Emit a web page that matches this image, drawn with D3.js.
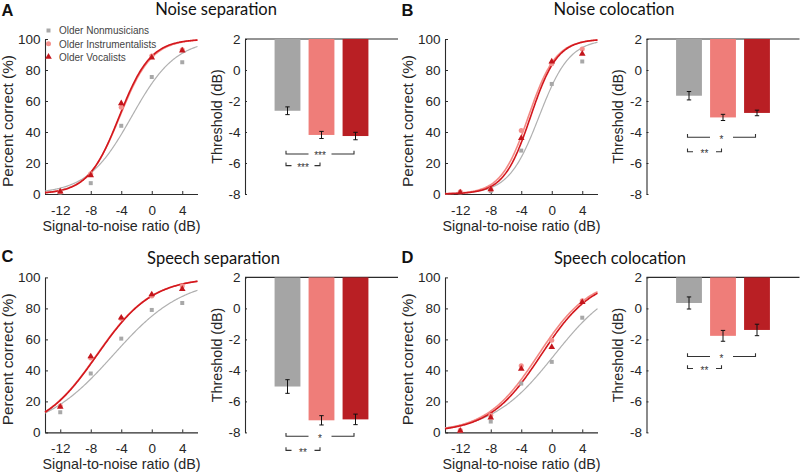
<!DOCTYPE html>
<html>
<head>
<meta charset="utf-8">
<script src="https://cdn.jsdelivr.net/npm/d3@7"></script>
<style>
  html, body { margin: 0; padding: 0; background: #fff; }
  svg { display: block; }
</style>
</head>
<body>
<svg id="chart" width="800" height="475"></svg>
<script>
// ---------------- data ----------------
const panelLetters = ["A", "B", "C", "D"];
const panelTitles = ["Noise separation", "Noise colocation", "Speech separation", "Speech colocation"];
const groups = ["Older Nonmusicians", "Older Instrumentalists", "Older Vocalists"];

const snrLevels = [-12, -8, -4, 0, 4];               // x positions of the data points (dB)
const xTickValues = [-12, -8, -4, 0, 4];
const pctTickValues = [0, 20, 40, 60, 80, 100];
const thrTickValues = [2, 0, -2, -4, -6, -8];

// percent correct per panel (A, B, C, D) at each SNR
const pctNonmusicians = [
  [1, 7, 44, 75.5, 85],
  [1, 2, 28, 71, 85.5],
  [13, 38, 60.5, 79, 83.5],
  [1, 7, 31.5, 45.5, 74]
];
const pctInstrumentalists = [
  [1.5, 13, 56, 89, 93],
  [1.5, 3, 41, 84, 93.5],
  [17, 48, 73.5, 88, 94.5],
  [1.3, 11, 43, 59.5, 85]
];
const pctVocalists = [
  [1.5, 12, 58.5, 88, 92.5],
  [1, 3, 36, 85.5, 90.5],
  [16.5, 49, 74, 89, 92.5],
  [1, 9.5, 41, 55, 84]
];

// fitted thresholds (dB) = bar heights, with their error bars
const thrNonmusicians = [-2.63, -1.66, -5.04, 0.35];
const thrInstrumentalists = [-4.19, -3.06, -7.22, -1.77];
const thrVocalists = [-4.26, -2.77, -7.16, -1.39];
const errNonmusicians = [0.25, 0.27, 0.44, 0.39];
const errInstrumentalists = [0.23, 0.2, 0.3, 0.35];
const errVocalists = [0.24, 0.18, 0.34, 0.37];

// slope parameters of the fitted psychometric (logistic) curves, dB
const slopeNonmusicians = [2.9, 2.0, 4.6, 4.1];
const slopeInstrumentalists = [2.1, 1.8, 3.6, 3.4];
const slopeVocalists = [2.05, 1.75, 3.6, 3.4];

// significance brackets: pairs of groups, level (dB) and labels
const sigPairs = [[0, 2], [0, 1]];
const sigLevels = [[-5.42, -6.17], [-4.34, -5.27], [-8.25, -9.16], [-3.1, -3.88]];
const sigLabels = [["***", "***"], ["*", "**"], ["*", "**"], ["*", "**"]];

// ---------------- styles ----------------
const markerCol = ["#a8a8a8", "#f3918d", "#c3161c"];
const curveCol = ["#b0b0b0", "#f38883", "#d3171d"];
const barCol = ["#a5a5a5", "#ef7d79", "#b91f24"];
const axisCol = "#2b2b2b";
const textCol = "#262626";
const FONT = "'Liberation Sans', Arial, sans-serif";

const svg = d3.select("#chart");
const pct = [pctNonmusicians, pctInstrumentalists, pctVocalists];
const thr = [thrNonmusicians, thrInstrumentalists, thrVocalists];
const err = [errNonmusicians, errInstrumentalists, errVocalists];
const slope = [slopeNonmusicians, slopeInstrumentalists, slopeVocalists];

function logistic(x, t, s) { return 100 / (1 + Math.exp(-(x - t) / s)); }

function styleAxis(g, fs) {
  g.attr("font-family", FONT).attr("font-size", fs);
  g.selectAll(".domain").attr("stroke", axisCol).attr("stroke-width", 1.1);
  g.selectAll(".tick line").attr("stroke", axisCol).attr("stroke-width", 1);
  g.selectAll(".tick text").attr("fill", textCol);
}

const titleCenters = [216, 614, 213.5, 620];
const titleBase = [15, 15, 263.5, 263.5];
const letterBase = [16, 16, 261.5, 263];

panelLetters.forEach((letter, p) => {
  const col = p % 2, row = Math.floor(p / 2);
  const ox = col * 400, oy = row * 238.4;

  const x = d3.scaleLinear().domain([-14, 6]).range([ox + 45, ox + 197.5]);
  const y = d3.scaleLinear().domain([0, 100]).range([oy + 194, oy + 39]);
  const xb = d3.scaleLinear().domain([-0.25, 4.25]).range([ox + 245 + col * 1.5, ox + 398 + col * 1.5]);
  const yb = d3.scaleLinear().domain([-8, 2]).range([oy + 194, oy + 39]);

  // panel letter and title
  svg.append("text").attr("x", ox + 1.5).attr("y", letterBase[p])
    .attr("font-family", FONT).attr("font-weight", "bold").attr("font-size", 16.5)
    .attr("fill", "#111").text(letter);
  svg.append("text").attr("x", titleCenters[p]).attr("y", titleBase[p])
    .attr("text-anchor", "middle").attr("font-family", "Lato, 'Open Sans', sans-serif")
    .attr("font-size", 16.5).attr("fill", "#111").text(panelTitles[p]);

  // ---- psychometric axes
  const gx = svg.append("g").attr("transform", `translate(0,${oy + 194})`)
    .call(d3.axisBottom(x).tickValues(xTickValues).tickFormat(d => String(d))
      .tickSizeInner(-3).tickSizeOuter(0).tickPadding(11));
  styleAxis(gx, 13.5);
  const gy = svg.append("g").attr("transform", `translate(${ox + 45},0)`)
    .call(d3.axisLeft(y).tickValues(pctTickValues).tickFormat(d => String(d))
      .tickSizeInner(-3).tickSizeOuter(0).tickPadding(4.5));
  styleAxis(gy, 13.5);

  svg.append("text").attr("transform", `translate(${ox + 12.5},${oy + 121}) rotate(-90)`)
    .attr("text-anchor", "middle").attr("font-family", FONT).attr("font-size", 15.3)
    .attr("fill", textCol).text("Percent correct (%)");
  svg.append("text").attr("x", ox + 121.5).attr("y", oy + 230.8)
    .attr("text-anchor", "middle").attr("font-family", FONT).attr("font-size", 14.3)
    .attr("fill", textCol).text("Signal-to-noise ratio (dB)");

  // ---- fitted curves
  const xs = d3.range(-14, 6.001, 0.1);
  const line = d3.line().x(d => x(d[0])).y(d => y(d[1])).curve(d3.curveLinear);
  [0, 1, 2].forEach(g => {
    const pts = xs.map(v => [v, logistic(v, thr[g][p], slope[g][p])]);
    svg.append("path").attr("d", line(pts)).attr("fill", "none")
      .attr("stroke", curveCol[g]).attr("stroke-width", g === 0 ? 1.2 : 1.6);
  });

  // ---- data markers
  const sym = [d3.symbolSquare, d3.symbolCircle, d3.symbolTriangle];
  const symSize = [16, 20, 19];
  [0, 1, 2].forEach(g => {
    svg.append("g").selectAll("path").data(pct[g][p]).join("path")
      .attr("transform", (d, i) => `translate(${x(snrLevels[i])},${y(d)})`)
      .attr("d", d3.symbol().type(sym[g]).size(symSize[g]))
      .attr("fill", markerCol[g]);
  });

  // ---- legend (panel A only)
  if (p === 0) {
    const lb = [34.3, 47.5, 60.7];
    groups.forEach((name, g) => {
      svg.append("path").attr("transform", `translate(${ox + 48.5},${lb[g] - 3.8})`)
        .attr("d", d3.symbol().type(sym[g]).size(symSize[g]))
        .attr("fill", markerCol[g]);
      svg.append("text").attr("x", ox + 59).attr("y", lb[g])
        .attr("font-family", FONT).attr("font-size", 10).attr("fill", "#444").text(name);
    });
  }

  // ---- threshold bar chart
  const gyb = svg.append("g").attr("transform", `translate(${xb.range()[0]},0)`)
    .call(d3.axisLeft(yb).tickValues(thrTickValues).tickFormat(d => String(d))
      .tickSizeInner(-2).tickSizeOuter(0).tickPadding(4.5));
  styleAxis(gyb, 13.5);
  svg.append("line").attr("x1", xb.range()[0]).attr("x2", xb.range()[1])
    .attr("y1", yb(2)).attr("y2", yb(2)).attr("stroke", axisCol).attr("stroke-width", 1.1);
  svg.append("text").attr("transform", `translate(${ox + col * 1.5 + 221.5},${oy + 116.5}) rotate(-90)`)
    .attr("text-anchor", "middle").attr("font-family", FONT).attr("font-size", 14.3)
    .attr("fill", textCol).text("Threshold (dB)");

  const bw = 0.76;
  [0, 1, 2].forEach(g => {
    const v = thr[g][p];
    svg.append("rect").attr("x", xb(g + 1 - bw / 2)).attr("width", xb(bw) - xb(0))
      .attr("y", yb(2)).attr("height", yb(v) - yb(2)).attr("fill", barCol[g]);
  });
  [0, 1, 2].forEach(g => {
    const v = thr[g][p], e = err[g][p], cx = xb(g + 1);
    const eb = svg.append("g").attr("stroke", "#111").attr("stroke-width", 1);
    eb.append("line").attr("x1", cx).attr("x2", cx).attr("y1", yb(v - e)).attr("y2", yb(v + e));
    eb.append("line").attr("x1", cx - 2.2).attr("x2", cx + 2.2).attr("y1", yb(v - e)).attr("y2", yb(v - e));
    eb.append("line").attr("x1", cx - 2.2).attr("x2", cx + 2.2).attr("y1", yb(v + e)).attr("y2", yb(v + e));
  });

  // ---- significance brackets
  sigPairs.forEach((pair, k) => {
    const x1 = xb(pair[0] + 1) - 1.5, x2 = xb(pair[1] + 1) - 1.5;
    const yy = yb(sigLevels[p][k]);
    const xm = (x1 + x2) / 2, gap = 11.5;
    svg.append("path")
      .attr("d", `M${x1},${yy - 3.2}V${yy}H${xm - gap}M${xm + gap},${yy}H${x2}V${yy - 3.2}`)
      .attr("fill", "none").attr("stroke", "#333").attr("stroke-width", 1.1);
    svg.append("text").attr("x", xm).attr("y", yy + 5.3).attr("text-anchor", "middle")
      .attr("font-family", FONT).attr("font-size", 10).attr("fill", "#333").text(sigLabels[p][k]);
  });
});
</script>
</body>
</html>
